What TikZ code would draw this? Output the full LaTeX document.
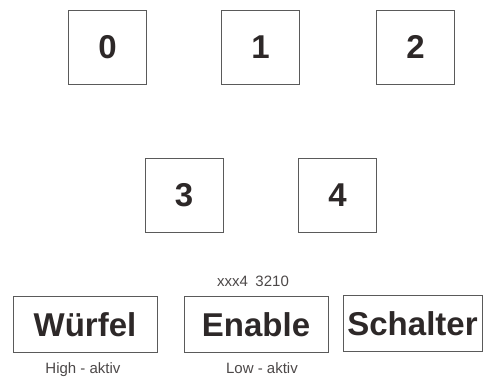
\documentclass[tikz,border=0pt]{standalone}
\usepackage{fontspec}
\setmainfont{Liberation Sans}
\usepackage{tikz}
\usetikzlibrary{positioning}
\definecolor{framegray}{RGB}{90, 90, 90}
\definecolor{inkgray}{RGB}{45, 40, 40}

\begin{document}
\begin{tikzpicture}[
    x=1pt, y=-1pt,
    digitbox/.style={draw=framegray, line width=0.9pt, minimum width=78pt, minimum height=74pt, inner sep=0pt, text=inkgray, font=\fontsize{33}{34}\selectfont\bfseries},
    namebox/.style={draw=framegray, line width=0.9pt, minimum height=56pt, inner sep=0pt, text=inkgray, font=\fontsize{33}{34}\selectfont\bfseries},
    smalltext/.style={inner sep=0pt, text=inkgray!85, font=\fontsize{15}{16}\selectfont}
]

% Canvas
\useasboundingbox (0,0) rectangle (483,379);

% Digit boxes
\foreach \n/\x/\y in {0/107.5/47, 1/260.5/47, 2/415.5/47, 3/184/195.5, 4/337.5/195.5} {
    \node[digitbox] (d\n) at (\x,\y) {\n};
}

% Bottom row
\node[namebox, minimum width=144pt] (wuerfel) at (85,324.5) {Würfel};
\node[namebox, minimum width=144pt] (enable) at (256,324.5) {Enable};
\node[namebox, minimum width=139pt] (schalter) at (412.5,323.5) {Schalter};

% Labels
\node[smalltext, above=9pt of enable, xshift=-3pt] (bits) {xxx4\enspace 3210};
\node[smalltext, below=9pt of wuerfel, xshift=-2pt] (high) {High - aktiv};
\node[smalltext, below=9pt of enable, xshift=6pt] (low) {Low - aktiv};

\end{tikzpicture}
\end{document}
